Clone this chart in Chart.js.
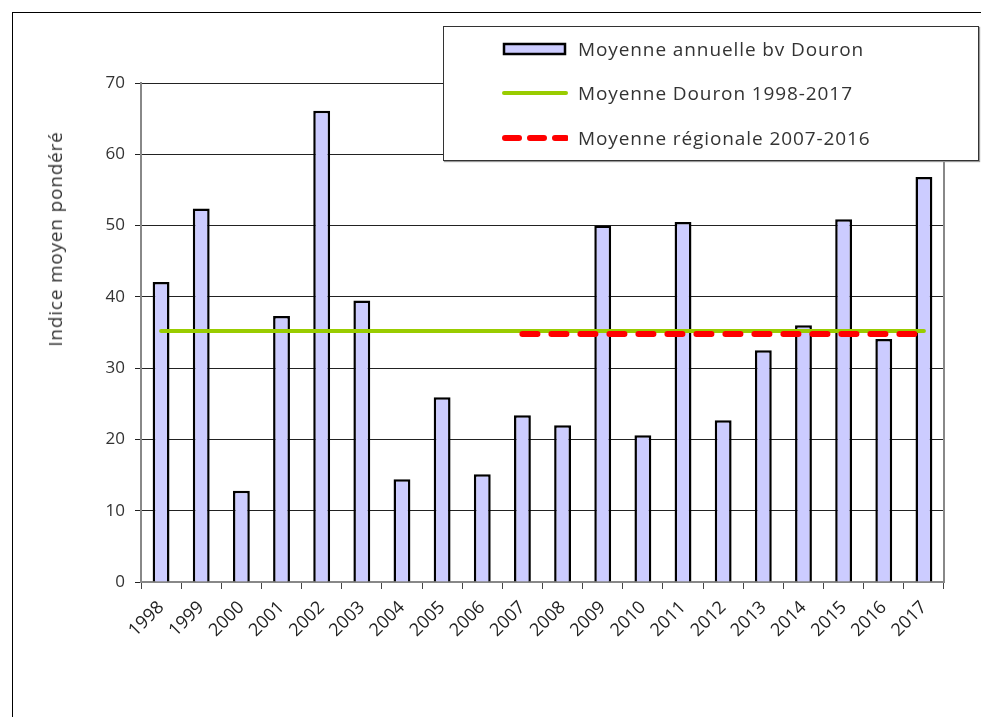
<!DOCTYPE html>
<html>
<head>
<meta charset="utf-8">
<script src="https://cdn.jsdelivr.net/npm/chart.js@4"></script>
<style>
  body { margin: 0; background: #fff; font-family: "Open Sans", sans-serif; }
  #wrap { position: relative; width: 981px; height: 717px; overflow: hidden; }
  #frame { position: absolute; left: 12px; top: 12px; width: 1200px; height: 1000px;
           border-left: 1px solid #000; border-top: 1px solid #000; }
  #legend { position: absolute; left: 443px; top: 26px; width: 534px; height: 133px;
            border: 1px solid #333; background: #fff; box-shadow: 1px 1px 1px #999; }
  .item { position: absolute; left: 58px; height: 26px; display: flex; align-items: center;
          font-size: 19px; letter-spacing: 0.9px; color: #333; white-space: nowrap; }
  .item svg { margin-right: 10px; }
  #ytitle { position: absolute; left: 55px; top: 239px; transform: translate(-50%, -50%) rotate(-90deg);
            font-size: 19px; letter-spacing: 0.8px; color: #333; white-space: nowrap; }
</style>
</head>
<body>
<div id="wrap">
  <div id="frame"></div>
  <canvas id="myChart" width="981" height="717" style="position:absolute;left:0;top:0"></canvas>
  <div id="ytitle">Indice moyen pondéré</div>
  <div id="legend">
    <div class="item" style="top:9px">
      <svg width="66" height="14"><rect x="2" y="2" width="61" height="10" fill="#ccccff" stroke="#000" stroke-width="2.5"/></svg>
      Moyenne annuelle bv Douron
    </div>
    <div class="item" style="top:53px">
      <svg width="66" height="14"><line x1="2" y1="7" x2="64" y2="7" stroke="#99cc00" stroke-width="4" stroke-linecap="round"/></svg>
      Moyenne Douron 1998-2017
    </div>
    <div class="item" style="top:98px">
      <svg width="66" height="14"><line x1="3" y1="7" x2="64" y2="7" stroke="#ff0000" stroke-width="6" stroke-linecap="round" stroke-dasharray="14 11"/></svg>
      Moyenne régionale 2007-2016
    </div>
  </div>
</div>
<script>
var years = ['1998', '1999', '2000', '2001', '2002', '2003', '2004', '2005', '2006', '2007',
             '2008', '2009', '2010', '2011', '2012', '2013', '2014', '2015', '2016', '2017'];
var annualMean = [42.1, 52.4, 12.8, 37.3, 66.1, 39.5, 14.4, 25.9, 15.1, 23.4,
                  22.0, 50.0, 20.6, 50.5, 22.7, 32.5, 36.0, 50.9, 34.1, 56.8];
var douronMean = [35.2, 35.2, 35.2, 35.2, 35.2, 35.2, 35.2, 35.2, 35.2, 35.2,
                  35.2, 35.2, 35.2, 35.2, 35.2, 35.2, 35.2, 35.2, 35.2, 35.2];
var regionalMean = [null, null, null, null, null, null, null, null, null, 34.8,
                    34.8, 34.8, 34.8, 34.8, 34.8, 34.8, 34.8, 34.8, 34.8, 34.8];
var yTicks = [0, 10, 20, 30, 40, 50, 60, 70];

var plotBorder = {
    id: 'plotBorder',
    afterDraw: function (chart) {
        var a = chart.chartArea, c = chart.ctx;
        c.save();
        c.strokeStyle = '#888';
        c.lineWidth = 2;
        c.beginPath();
        c.moveTo(a.right, a.top);
        c.lineTo(a.right, a.bottom);
        c.stroke();
        c.restore();
    }
};

var ctx = document.getElementById('myChart').getContext('2d');
var myChart = new Chart(ctx, {
    type: 'bar',
    data: {
        labels: years,
        datasets: [{
            type: 'line',
            label: 'Moyenne régionale 2007-2016',
            data: regionalMean,
            borderColor: '#ff0000',
            borderWidth: 6,
            borderDash: [15, 14],
            borderCapStyle: 'round',
            pointRadius: 0,
            order: 0
        }, {
            type: 'line',
            label: 'Moyenne Douron 1998-2017',
            data: douronMean,
            borderColor: '#99cc00',
            borderWidth: 4,
            borderCapStyle: 'round',
            pointRadius: 0,
            order: 1
        }, {
            label: 'Moyenne annuelle bv Douron',
            data: annualMean,
            backgroundColor: '#ccccff',
            borderColor: '#000',
            borderWidth: 2.5,
            barPercentage: 0.42,
            categoryPercentage: 1,
            order: 2
        }]
    },
    options: {
        responsive: false,
        animation: false,
        layout: { padding: { top: 83, right: 37, left: 0, bottom: 0 } },
        plugins: {
            legend: { display: false },
            tooltip: { enabled: false }
        },
        scales: {
            x: {
                grid: { offset: true, drawOnChartArea: false, color: '#444', tickLength: 7 },
                border: { color: '#888', width: 2 },
                ticks: {
                    minRotation: 45, maxRotation: 45, color: '#222', padding: 8,
                    font: { family: 'Open Sans', size: 18 }
                },
                afterFit: function (s) { s.height = 135; }
            },
            y: {
                min: 0, max: 70,
                afterBuildTicks: function (s) { s.ticks = yTicks.map(function (v) { return { value: v }; }); },
                grid: { color: '#222', lineWidth: 1, tickLength: 6 },
                border: { color: '#888', width: 2 },
                ticks: { color: '#333', padding: 10, font: { family: 'Open Sans', size: 17 } },
                afterFit: function (s) { s.width = 141; }
            }
        }
    },
    plugins: [plotBorder]
});
</script>
</body>
</html>
